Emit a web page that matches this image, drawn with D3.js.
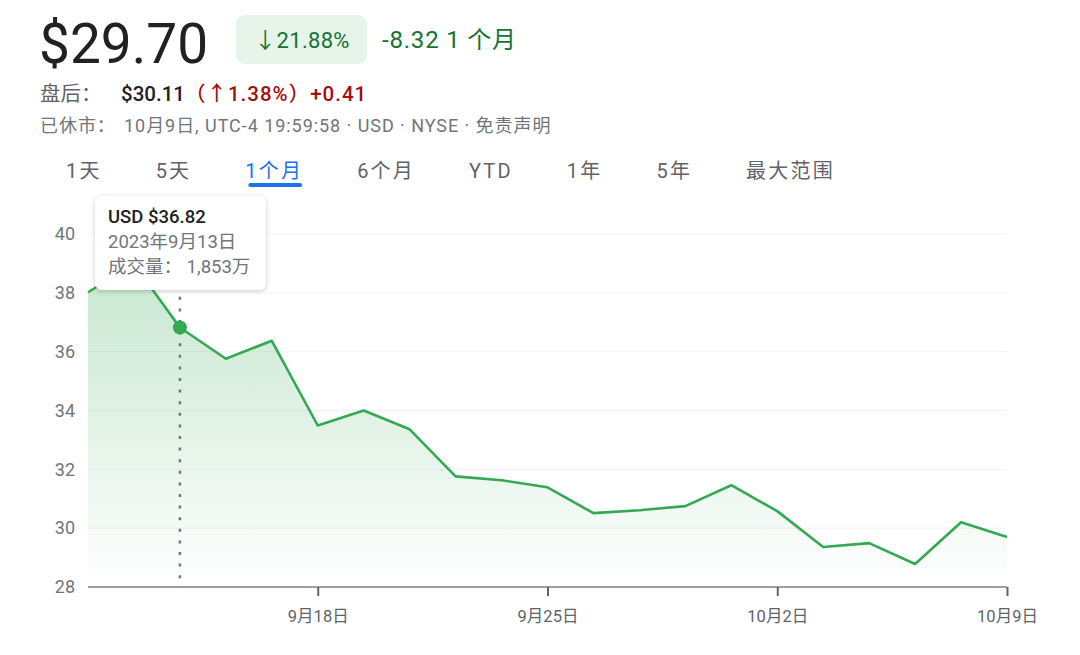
<!DOCTYPE html>
<html>
<head>
<meta charset="utf-8">
<script src="https://cdn.jsdelivr.net/npm/d3@7"></script>
<style>
  body { margin: 0; background: #fff; }
  svg { font-family: Roboto, "Noto Sans CJK SC", sans-serif; }
  .grid { stroke: #f1f3f4; stroke-width: 1; }
  .y-label { fill: #70757a; font-size: 18px; }
  .x-label { fill: #5f6368; font-size: 16.5px; }
  .tab { fill: #5f6368; font-size: 20px; letter-spacing: 2.2px; }
  .tab.active { fill: #1a73e8; }
  .tip-text { font-size: 18.5px; fill: #70757a; }
</style>
</head>
<body>
<svg id="chart" width="1080" height="655"></svg>
<script>
// Data ////////////////////////////////////////////////////////////////

var dates = ["2023-09-11", "2023-09-12", "2023-09-13", "2023-09-14", "2023-09-15",
             "2023-09-18", "2023-09-19", "2023-09-20", "2023-09-21", "2023-09-22",
             "2023-09-25", "2023-09-26", "2023-09-27", "2023-09-28", "2023-09-29",
             "2023-10-02", "2023-10-03", "2023-10-04", "2023-10-05", "2023-10-06",
             "2023-10-09"];
var closes = [38.02, 38.98, 36.82, 35.76, 36.37,
              33.49, 34.00, 33.36, 31.76, 31.63,
              31.39, 30.51, 30.61, 30.75, 31.46,
              30.58, 29.36, 29.49, 28.78, 30.20,
              29.70];
var yTicks = [28, 30, 32, 34, 36, 38, 40];
var xTickDates = ["2023-09-18", "2023-09-25", "2023-10-02", "2023-10-09"];
var xTickLabels = ["9月18日", "9月25日", "10月2日", "10月9日"];
var tabs = ["1天", "5天", "1个月", "6个月", "YTD", "1年", "5年", "最大范围"];
var activeTab = "1个月";
var hoverDate = "2023-09-13";
var hoverVolume = "1,853万";

var points = dates.map(function(d, i) { return {date: d, close: closes[i]} });

var svg = d3.select("#chart");
var defs = svg.append("defs");

// Header ////////////////////////////////////////////////////////////////

svg.append("text")
    .attr("x", 39).attr("y", 63)
    .attr("font-size", 55)
    .attr("fill", "#202124")
    .text("$29.70");

svg.append("rect")
    .attr("x", 236).attr("y", 15)
    .attr("width", 131).attr("height", 49)
    .attr("rx", 9)
    .attr("fill", "#e6f4ea");

svg.append("text")
    .attr("x", 302).attr("y", 48)
    .attr("text-anchor", "middle")
    .attr("font-size", 22)
    .attr("letter-spacing", 0.3)
    .attr("fill", "#137333")
    .text("↓21.88%");

svg.append("text")
    .attr("x", 382).attr("y", 48)
    .attr("font-size", 24)
    .attr("letter-spacing", 0.8)
    .attr("fill", "#137333")
    .text("-8.32 1 个月");

var afterHours = svg.append("text")
    .attr("x", 40).attr("y", 101)
    .attr("font-size", 20.5);
afterHours.append("tspan").attr("fill", "#5f6368").text("盘后：");
afterHours.append("tspan").attr("x", 121).attr("font-weight", 500).attr("fill", "#202124").text("$30.11");
afterHours.append("tspan").attr("font-weight", 500).attr("fill", "#a50e0e").attr("letter-spacing", 1).text("（↑1.38%）+0.41");

var closedNote = svg.append("text")
    .attr("x", 40).attr("y", 132)
    .attr("font-size", 18)
    .attr("letter-spacing", 0.95)
    .attr("fill", "#70757a");
closedNote.append("tspan").text("已休市：");
closedNote.append("tspan").attr("x", 124).text("10月9日, UTC-4 19:59:58 · USD · NYSE · 免责声明");

// Tabs
var tabX = 66;
tabs.forEach(function(t) {
    var node = svg.append("text")
        .attr("class", "tab" + (t === activeTab ? " active" : ""))
        .attr("x", tabX).attr("y", 178)
        .text(t);
    var w = node.node().getComputedTextLength();
    if (t === activeTab) {
        svg.append("line")
            .attr("x1", tabX + 5).attr("x2", tabX + w - 3)
            .attr("y1", 185).attr("y2", 185)
            .attr("stroke", "#1a73e8")
            .attr("stroke-width", 4)
            .attr("stroke-linecap", "round");
    }
    tabX += w + 54;
});

// Chart ////////////////////////////////////////////////////////////////

var plotLeft = 88, plotRight = 1007, plotTop = 234, plotBottom = 587;

var scaleX = d3.scalePoint().domain(dates).range([plotLeft, plotRight]);
var scaleY = d3.scaleLinear().domain([28, 40]).range([plotBottom, plotTop]);

// Gridlines
svg.selectAll(".grid")
    .data(yTicks.slice(1))
    .enter()
    .append("line")
        .attr("class", "grid")
        .attr("x1", plotLeft).attr("x2", plotRight)
        .attr("y1", function(d) { return scaleY(d) })
        .attr("y2", function(d) { return scaleY(d) });

// Y labels
svg.selectAll(".y-label")
    .data(yTicks)
    .enter()
    .append("text")
        .attr("class", "y-label")
        .attr("x", 75)
        .attr("y", function(d) { return scaleY(d) })
        .attr("dy", "0.35em")
        .attr("text-anchor", "end")
        .text(function(d) { return d });

// Area gradient
var grad = defs.append("linearGradient")
    .attr("id", "areaFill")
    .attr("x1", 0).attr("x2", 0).attr("y1", 0).attr("y2", 1);
grad.append("stop").attr("offset", "0%").attr("stop-color", "#34a853").attr("stop-opacity", 0.28);
grad.append("stop").attr("offset", "100%").attr("stop-color", "#34a853").attr("stop-opacity", 0.0);

var area = d3.area()
    .x(function(d) { return scaleX(d.date) })
    .y0(plotBottom)
    .y1(function(d) { return scaleY(d.close) });

svg.append("path")
    .datum(points)
    .attr("d", area)
    .attr("fill", "url(#areaFill)");

// Axis line + ticks
var xAxis = d3.axisBottom(scaleX)
    .tickValues(xTickDates)
    .tickSize(9)
    .tickFormat(function(d) { return xTickLabels[xTickDates.indexOf(d)] });

var axisG = svg.append("g")
    .attr("transform", "translate(0," + plotBottom + ")")
    .call(xAxis)
    .attr("font-family", null)
    .attr("font-size", null);
axisG.select(".domain")
    .attr("d", "M" + plotLeft + ",0H" + plotRight)
    .attr("stroke", "#9aa0a6")
    .attr("stroke-width", 2);
axisG.selectAll(".tick line")
    .attr("stroke", "#5f6368")
    .attr("stroke-width", 2);
axisG.selectAll(".tick text")
    .attr("class", "x-label")
    .attr("y", 23)
    .attr("fill", null);

// Hover line
svg.append("line")
    .attr("x1", scaleX(hoverDate)).attr("x2", scaleX(hoverDate))
    .attr("y1", plotTop - 30).attr("y2", plotBottom)
    .attr("stroke", "#70757a")
    .attr("stroke-width", 2.5)
    .attr("stroke-dasharray", "3,8.6");

// Price line
var line = d3.line()
    .x(function(d) { return scaleX(d.date) })
    .y(function(d) { return scaleY(d.close) });

svg.append("path")
    .datum(points)
    .attr("d", line)
    .attr("fill", "none")
    .attr("stroke", "#34a853")
    .attr("stroke-width", 2.6)
    .attr("stroke-linejoin", "round");

var hoverPoint = points[dates.indexOf(hoverDate)];
svg.append("circle")
    .attr("cx", scaleX(hoverPoint.date))
    .attr("cy", scaleY(hoverPoint.close))
    .attr("r", 7)
    .attr("fill", "#34a853");

// Tooltip ////////////////////////////////////////////////////////////////

var shadow = defs.append("filter")
    .attr("id", "shadow")
    .attr("x", "-20%").attr("y", "-20%").attr("width", "140%").attr("height", "150%");
shadow.append("feDropShadow")
    .attr("dx", 0).attr("dy", 1)
    .attr("stdDeviation", 2)
    .attr("flood-color", "#3c4043")
    .attr("flood-opacity", 0.3);

var tip = svg.append("g").attr("transform", "translate(95,196)");
tip.append("rect")
    .attr("width", 171).attr("height", 94)
    .attr("rx", 7)
    .attr("fill", "#fff")
    .attr("filter", "url(#shadow)");

var hd = new Date(hoverDate + "T00:00:00");
tip.append("text")
    .attr("class", "tip-text")
    .attr("x", 13).attr("y", 27)
    .attr("font-weight", 500)
    .style("fill", "#202124")
    .text("USD $" + hoverPoint.close.toFixed(2));
tip.append("text")
    .attr("class", "tip-text")
    .attr("x", 13).attr("y", 52)
    .text(hd.getFullYear() + "年" + (hd.getMonth() + 1) + "月" + hd.getDate() + "日");
tip.append("text")
    .attr("class", "tip-text")
    .attr("x", 13).attr("y", 77)
    .text("成交量：  " + hoverVolume);
</script>
</body>
</html>
